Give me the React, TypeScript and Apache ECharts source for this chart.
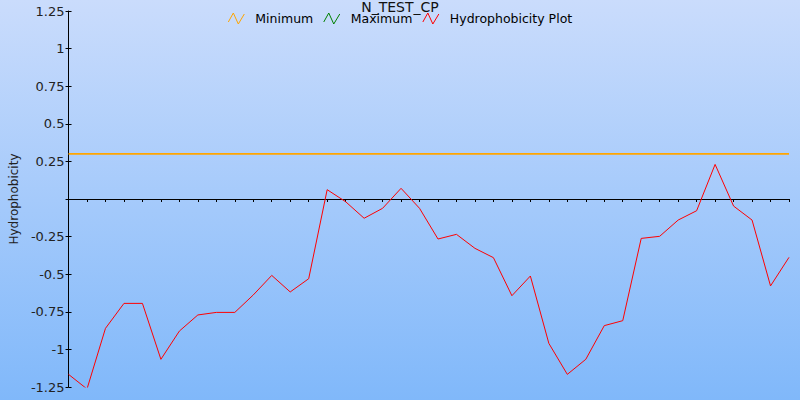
import React, { useEffect, useRef } from "react";
import * as echarts from "echarts";

const chartTitle = "N_TEST_CP";
const yAxisName = "Hydrophobicity";
const seriesNames = ["Minimum", "Maximum", "Hydrophobicity Plot"];
const seriesColors = ["#ffa500", "#008000", "#ff0000"];

const categories: string[] = Array.from({ length: 40 }, (_, i) => String(i + 1));

const hydrophobicity: number[] = [
  -1.166, -1.263, -0.86, -0.694, -0.694, -1.066, -0.878, -0.771, -0.754, -0.754,
  -0.638, -0.508, -0.618, -0.53, 0.062, -0.018, -0.128, -0.062, 0.071, -0.062,
  -0.266, -0.235, -0.328, -0.39, -0.643, -0.512, -0.96, -1.166, -1.066, -0.842,
  -0.809, -0.262, -0.248, -0.14, -0.078, 0.23, -0.047, -0.14, -0.578, -0.388,
];

const minimumLevel = 0.3;
const minimumValues: number[] = categories.map(() => minimumLevel);
const maximumValues: (number | null)[] = [];

const yMin = -1.25;
const yMax = 1.25;
const yInterval = 0.25;

const zigzag = "path://M0,9L5,0L10,11L16,1";

export default function App() {
  const ref = useRef<HTMLDivElement>(null);
  useEffect(() => {
    if (!ref.current) return;
    const chart = echarts.init(ref.current, undefined, { renderer: "svg" });
    const font = "DejaVu Sans";
    chart.setOption({
      animation: false,
      backgroundColor: new echarts.graphic.LinearGradient(0, 0, 0, 1, [
        { offset: 0, color: "#cadcfc" },
        { offset: 1, color: "#80b8fa" },
      ]),
      title: {
        text: chartTitle,
        left: "center",
        top: 0,
        padding: 0,
        textStyle: { fontFamily: font, fontSize: 14, fontWeight: "normal", color: "#111" },
      },
      legend: {
        top: 12,
        left: "center",
        padding: 0,
        itemWidth: 16,
        itemHeight: 12,
        itemGap: 10,
        textStyle: { fontFamily: font, fontSize: 12.5, color: "#000", padding: [0, 0, 0, 6] },
        data: seriesNames.map((n, i) => ({
          name: n,
          icon: zigzag,
          itemStyle: { color: "rgba(0,0,0,0)", borderColor: seriesColors[i], borderWidth: 1 },
        })),
      },
      grid: { left: 68, right: 11, top: 11, bottom: 13, containLabel: false },
      xAxis: [
        {
          type: "category",
          data: categories,
          boundaryGap: false,
          axisLine: { onZero: true, lineStyle: { color: "#000", width: 1 } },
          axisTick: { show: true, interval: 0, length: 3, lineStyle: { color: "#000" } },
          axisLabel: { show: false },
          splitLine: { show: false },
        },
        {
          type: "category",
          data: categories,
          boundaryGap: false,
          axisLine: { show: false, onZero: true },
          axisTick: { show: true, inside: true, interval: 0, length: 3, lineStyle: { color: "#000" } },
          axisLabel: { show: false },
          splitLine: { show: false },
        },
      ],
      yAxis: [
        {
          type: "value",
          min: yMin,
          max: yMax,
          interval: yInterval,
          name: yAxisName,
          nameLocation: "middle",
          nameGap: 47,
          nameTextStyle: { fontFamily: font, fontSize: 12, color: "#222" },
          axisLine: { show: true, onZero: false, lineStyle: { color: "#000", width: 1 } },
          axisTick: { show: true, length: 3, lineStyle: { color: "#000" } },
          axisLabel: {
            margin: 4,
            fontFamily: font,
            fontSize: 13,
            color: "#222",
            formatter: (v: number) => (Math.abs(v) < 1e-9 ? "" : String(v)),
          },
          splitLine: { show: false },
        },
        {
          type: "value",
          position: "left",
          min: yMin,
          max: yMax,
          interval: yInterval,
          axisLine: { show: false, onZero: false },
          axisTick: { show: true, inside: true, length: 3, lineStyle: { color: "#000" } },
          axisLabel: { show: false },
          splitLine: { show: false },
        },
      ],
      series: [
        {
          name: seriesNames[0],
          type: "line",
          data: minimumValues,
          showSymbol: false,
          symbol: "none",
          lineStyle: { color: seriesColors[0], width: 1.6 },
          itemStyle: { color: seriesColors[0] },
        },
        {
          name: seriesNames[1],
          type: "line",
          data: maximumValues,
          showSymbol: false,
          symbol: "none",
          lineStyle: { color: seriesColors[1], width: 1 },
          itemStyle: { color: seriesColors[1] },
        },
        {
          name: seriesNames[2],
          type: "line",
          data: hydrophobicity,
          showSymbol: false,
          symbol: "none",
          lineStyle: { color: seriesColors[2], width: 1 },
          itemStyle: { color: seriesColors[2] },
        },
      ],
    });
    return () => chart.dispose();
  }, []);
  return (
    <div
      ref={ref}
      style={{ position: "fixed", left: 0, top: 0, width: 800, height: 400 }}
    />
  );
}
